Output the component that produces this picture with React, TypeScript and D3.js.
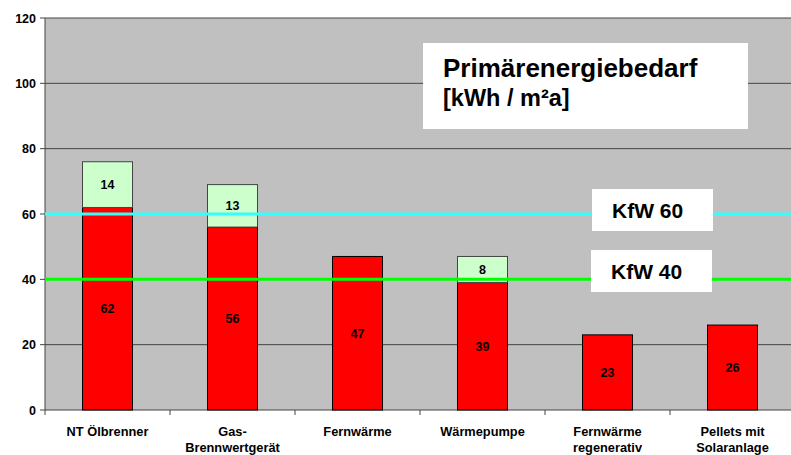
import React from "react";
import * as d3 from "d3";

const categories = ["NT Ölbrenner", "Gas-\nBrennwertgerät", "Fernwärme", "Wärmepumpe", "Fernwärme\nregenerativ", "Pellets mit\nSolaranlage"];
const baseValues = [62, 56, 47, 39, 23, 26];
const addValues = [14, 13, 0, 8, 0, 0];
const yTicks = [0, 20, 40, 60, 80, 100, 120];
const refLines = [
  { value: 60, label: "KfW 60", color: "#33FFFF" },
  { value: 40, label: "KfW 40", color: "#00FF00" },
];

const W = 791, H = 455;
const left = 45, right = 795, top = 18, bottom = 410;
const FONT = "Arial, 'Liberation Sans', sans-serif";

export default function App() {
  const x = d3.scaleBand<string>().domain(categories).range([left, right]).paddingInner(0).paddingOuter(0);
  const y = d3.scaleLinear().domain([0, 120]).range([bottom, top]);
  const bw = 50;
  return (
    <svg width={W} height={H} style={{ position: "absolute", left: 0, top: 0 }} fontFamily={FONT}>
      <rect x={0} y={0} width={W} height={H} fill="#fff" />
      <rect x={left} y={top} width={W - left} height={bottom - top} fill="#C0C0C0" />
      {yTicks.map((t) => (
        <g key={t}>
          {t > 0 && <line x1={left} x2={W} y1={y(t)} y2={y(t)} stroke="#444" strokeWidth={1} />}
          <line x1={left - 5} x2={left} y1={y(t)} y2={y(t)} stroke="#444" />
          <text x={left - 9} y={y(t)} dy="0.36em" textAnchor="end" fontSize={12.5} fontWeight="bold">{t}</text>
        </g>
      ))}
      <line x1={left} x2={left} y1={top} y2={bottom} stroke="#444" />
      <line x1={left} x2={W} y1={bottom} y2={bottom} stroke="#444" />
      {categories.map((c, i) => (
        <line key={"tk" + i} x1={(x(c) as number)} x2={(x(c) as number)} y1={bottom} y2={bottom + 5} stroke="#444" />
      ))}
      {categories.map((c, i) => {
        const cx = (x(c) as number) + x.bandwidth() / 2;
        const b = baseValues[i], a = addValues[i];
        return (
          <g key={c}>
            <rect x={cx - bw / 2} y={y(b)} width={bw} height={y(0) - y(b)} fill="#FF0000" stroke="#000" strokeWidth={1} />
            {a > 0 && (
              <rect x={cx - bw / 2} y={y(b + a)} width={bw} height={y(b) - y(b + a)} fill="#CCFFCC" stroke="#444" strokeWidth={1} />
            )}
          </g>
        );
      })}
      {refLines.map((r) => (
        <line key={r.label} x1={left} x2={W} y1={y(r.value)} y2={y(r.value)} stroke={r.color} strokeWidth={3} />
      ))}
      {categories.map((c, i) => {
        const cx = (x(c) as number) + x.bandwidth() / 2;
        const b = baseValues[i], a = addValues[i];
        return (
          <g key={"lb" + c} fontSize={12.5} fontWeight="bold" textAnchor="middle">
            <text x={cx} y={(y(0) + y(b)) / 2} dy="0.36em">{b}</text>
            {a > 0 && <text x={cx} y={(y(b) + y(b + a)) / 2} dy="0.36em">{a}</text>}
          </g>
        );
      })}
      {categories.map((c) => {
        const cx = (x(c) as number) + x.bandwidth() / 2;
        const lines = c.split("\n");
        return (
          <text key={"xl" + c} x={cx} y={436} textAnchor="middle" fontSize={12.8} fontWeight="bold">
            {lines.map((l, j) => (
              <tspan key={j} x={cx} dy={j === 0 ? 0 : 16}>{l}</tspan>
            ))}
          </text>
        );
      })}
      <rect x={423} y={43} width={325} height={86} fill="#fff" />
      <text x={443} y={77} fontSize={26} fontWeight="bold">Primärenergiebedarf</text>
      <text x={443} y={106} fontSize={23.5} fontWeight="bold">[kWh / m²a]</text>
      {refLines.map((r, i) => (
        <g key={"bx" + r.label}>
          <rect x={592 - i} y={i === 0 ? 189 : 250} width={121} height={42} fill="#fff" />
          <text x={612 - i} y={(i === 0 ? 189 : 250) + 29} fontSize={21} fontWeight="bold">{r.label}</text>
        </g>
      ))}
    </svg>
  );
}
